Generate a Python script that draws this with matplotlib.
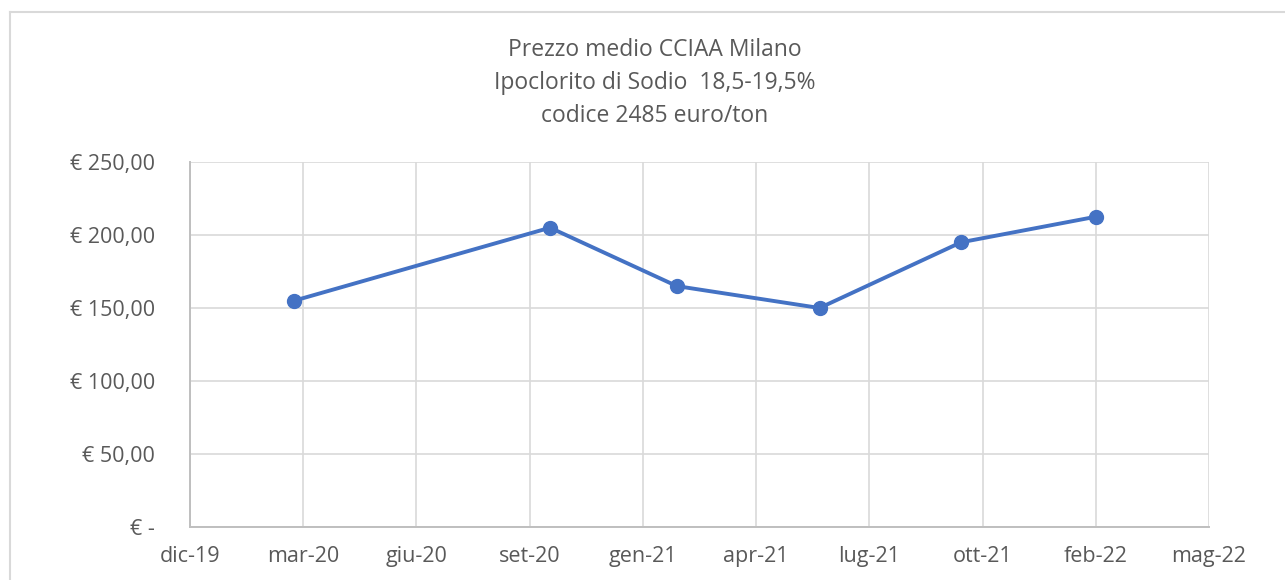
import datetime as dt

import matplotlib.pyplot as plt
from matplotlib.lines import Line2D

TEXT_COLOR = "#595959"
GRID_COLOR = "#d9d9d9"
LINE_COLOR = "#4472c4"

TITLE = "Prezzo medio CCIAA Milano\nIpoclorito di Sodio  18,5-19,5%\ncodice 2485 euro/ton"

# observation dates and prices (euro/ton)
dates = [
    dt.date(2020, 3, 2),
    dt.date(2020, 10, 14),
    dt.date(2021, 2, 3),
    dt.date(2021, 6, 9),
    dt.date(2021, 10, 12),
    dt.date(2022, 2, 8),
]
prices = [155, 205, 165, 150, 195, 212.5]

# axis ticks: start 1 dec 2019, one every 100 days (Excel date axis)
x_start = dt.date(2019, 12, 1)
x_step_days = 100
x_tick_count = 10
x_tick_labels = ["dic-19", "mar-20", "giu-20", "set-20", "gen-21",
                 "apr-21", "lug-21", "ott-21", "feb-22", "mag-22"]

y_ticks = [0, 50, 100, 150, 200, 250]
y_tick_labels = ["€ -", "€ 50,00", "€ 100,00", "€ 150,00", "€ 200,00", "€ 250,00"]

plt.rcParams["font.family"] = ["Open Sans", "DejaVu Sans"]

fig = plt.figure(figsize=(12.85, 5.8), dpi=100)
ax = fig.add_axes([190 / 1285, 1 - 527 / 580, 1019 / 1285, 365 / 580])

x_ticks = [x_start + dt.timedelta(days=x_step_days * i) for i in range(x_tick_count)]

ax.plot(dates, prices, color=LINE_COLOR, linewidth=2.8, marker="o",
        markersize=10, zorder=3, solid_capstyle="round")

ax.set_xlim(x_ticks[0], x_ticks[-1])
ax.set_ylim(0, 250)
ax.set_xticks(x_ticks)
ax.set_xticklabels(x_tick_labels)
ax.set_yticks(y_ticks)
ax.set_yticklabels(y_tick_labels)

ax.grid(True, color=GRID_COLOR, linewidth=1.2)
ax.set_axisbelow(True)
for side in ["top", "right"]:
    ax.spines[side].set_visible(False)
for side in ["left", "bottom"]:
    ax.spines[side].set_color("#bfbfbf")
    ax.spines[side].set_linewidth(1.4)

ax.tick_params(axis="both", length=0, labelsize=15.5, colors=TEXT_COLOR)
ax.tick_params(axis="x", pad=14)
ax.tick_params(axis="y", pad=25)

fig.text(655 / 1285, 1 - 83 / 580, TITLE, ha="center", va="center",
         fontsize=16.5, color=TEXT_COLOR, linespacing=1.5)

# chart frame
fig.add_artist(Line2D([10 / 1285, 10 / 1285], [0, 1 - 12 / 580],
                      transform=fig.transFigure, color="#d9d9d9", linewidth=1.5))
fig.add_artist(Line2D([10 / 1285, 1], [1 - 12 / 580, 1 - 12 / 580],
                      transform=fig.transFigure, color="#d9d9d9", linewidth=1.5))

fig.savefig("out.png", dpi=100)
